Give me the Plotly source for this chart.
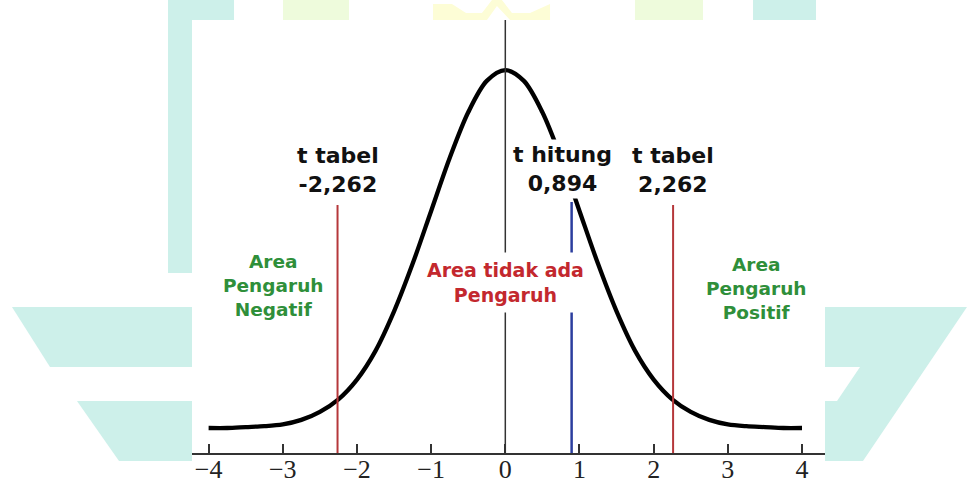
import plotly.graph_objects as go

# t statistic grid and the bell curve heights (probability density)
t_vals = [-4.0, -3.75, -3.5, -3.25, -3.0, -2.75, -2.5, -2.25, -2.0, -1.75, -1.5, -1.25,
          -1.0, -0.75, -0.5, -0.25, 0.0, 0.25, 0.5, 0.75, 1.0, 1.25, 1.5, 1.75,
          2.0, 2.25, 2.5, 2.75, 3.0, 3.25, 3.5, 3.75, 4.0]
density = [0.000, 0.000, 0.001, 0.002, 0.004, 0.009, 0.018, 0.032, 0.054, 0.086, 0.130, 0.183,
           0.242, 0.301, 0.352, 0.387, 0.399, 0.387, 0.352, 0.301, 0.242, 0.183, 0.130, 0.086,
           0.054, 0.032, 0.018, 0.009, 0.004, 0.002, 0.001, 0.000, 0.000]

# critical values and the computed statistic
t_tabel = 2.262
t_hitung = 0.894

tick_vals = [-4, -3, -2, -1, 0, 1, 2, 3, 4]

X_RANGE = [-4.224, 4.31]
Y_RANGE = [-0.0279, 0.4549]

# figure geometry (pixels)
W, H = 967, 483
ML, MR, MT, MB = 192, 142, 20, 30
PW, PH = W - ML - MR, H - MT - MB


def pp(px, py):
    """pixel position -> paper coordinates"""
    return (px - ML) / PW, (H - MB - py) / PH


def path(points):
    pts = [pp(x, y) for x, y in points]
    return "M " + " L ".join(f"{a:.4f},{b:.4f}" for a, b in pts) + " Z"


TEAL = "#cdf0ea"
LIME = "#eefbdc"
CREAM = "#fdfdd6"

backdrop = [
    ([(168, 0), (234, 0), (234, 20), (192, 20), (192, 273), (168, 273)], TEAL),
    ([(12, 307), (192, 307), (192, 367), (50, 367)], TEAL),
    ([(77, 401), (192, 401), (192, 461), (119, 461)], TEAL),
    ([(825, 307), (967, 307), (863, 461), (825, 461), (825, 401), (837, 401),
      (860, 367), (825, 367)], TEAL),
    ([(283, 0), (349, 0), (349, 20), (283, 20)], LIME),
    ([(635, 0), (703, 0), (703, 20), (635, 20)], LIME),
    ([(753, 0), (816, 0), (816, 20), (753, 20)], TEAL),
    ([(433, 4), (452, 4), (466, 13), (482, 13), (492, 0), (502, 0), (512, 13),
      (530, 13), (550, 4), (550, 20), (510, 20), (497, 6), (487, 20), (433, 20)], CREAM),
]

shapes = []
for pts, col in backdrop:
    shapes.append(dict(type="path", xref="paper", yref="paper", path=path(pts),
                       fillcolor=col, line=dict(width=0), layer="below"))

# centre line
shapes.append(dict(type="line", xref="x", yref="paper", x0=0, x1=0, y0=0, y1=1,
                   line=dict(color="#333333", width=1.5)))
# critical value lines
for v in (-t_tabel, t_tabel):
    shapes.append(dict(type="line", xref="x", yref="y", x0=v, x1=v,
                       y0=Y_RANGE[0], y1=0.2486,
                       line=dict(color="#b5373a", width=2)))
# computed statistic line
shapes.append(dict(type="line", xref="x", yref="y", x0=t_hitung, x1=t_hitung,
                   y0=Y_RANGE[0], y1=0.252,
                   line=dict(color="#2b3e9e", width=2.5)))

fig = go.Figure()
fig.add_trace(go.Scatter(x=t_vals, y=density, mode="lines",
                         line=dict(color="black", width=4.3, shape="spline", smoothing=0.9),
                         hoverinfo="skip", showlegend=False))

SANS = "DejaVu Sans"


def fmt(v):
    return f"{v:.3f}".replace(".", ",")


def note(text, x, y, size, color, pad=2):
    return dict(text=text, x=x, y=y, xref="x", yref="y", showarrow=False,
                xanchor="center", yanchor="middle", align="center",
                bgcolor="white", borderpad=pad,
                font=dict(family=SANS, size=size, color=color, weight="bold"))


annotations = [
    note(f"t tabel<br>{fmt(-t_tabel)}", -t_tabel, 0.2876, 22, "#111111"),
    note(f"t hitung<br>{fmt(t_hitung)}", 0.775, 0.2888, 22, "#111111"),
    note(f"t tabel<br>{fmt(t_tabel)}", t_tabel, 0.2876, 22, "#111111"),
    note("Area<br>Pengaruh<br>Negatif", -3.137, 0.1594, 18.5, "#2f8f3a"),
    note("Area tidak ada<br>Pengaruh", 0, 0.1617, 19, "#c3282e", pad=6),
    note("Area<br>Pengaruh<br>Positif", 3.376, 0.156, 18.5, "#2f8f3a"),
]

fig.update_layout(
    width=W, height=H, autosize=False,
    margin=dict(l=ML, r=MR, t=MT, b=MB, pad=0, autoexpand=False),
    paper_bgcolor="white", plot_bgcolor="white",
    shapes=shapes, annotations=annotations,
    xaxis=dict(range=X_RANGE, tickvals=tick_vals, ticks="inside", ticklen=9,
               tickwidth=1.5, tickcolor="#333333", showline=True, linecolor="#333333",
               linewidth=2, showgrid=False, zeroline=False, fixedrange=True,
               automargin=False, ticklabelstandoff=-8,
               tickfont=dict(family="Liberation Serif", size=26, color="#222222")),
    yaxis=dict(range=Y_RANGE, visible=False, fixedrange=True, automargin=False),
    showlegend=False,
)

fig.write_html("out.html", config={"displayModeBar": False})
